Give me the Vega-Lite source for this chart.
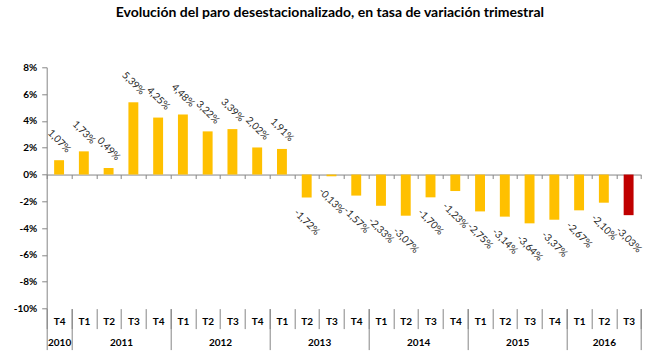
{
  "$schema": "https://vega.github.io/schema/vega-lite/v6.json",
  "width": 594.3,
  "height": 241.3,
  "autosize": "none",
  "padding": {"left": 46.7, "top": 67.3, "right": 12, "bottom": 53.4},
  "title": {
    "text": "Evolución del paro desestacionalizado, en tasa de variación trimestral",
    "font": "Lato", "fontSize": 14, "fontWeight": "bold", "color": "#000000",
    "anchor": "middle", "dx": -14, "offset": 42
  },
  "data": {
    "values": [
      {"key": "2010-T4", "v": 0.0107},
      {"key": "2011-T1", "v": 0.0173},
      {"key": "2011-T2", "v": 0.0049},
      {"key": "2011-T3", "v": 0.0539},
      {"key": "2011-T4", "v": 0.0425},
      {"key": "2012-T1", "v": 0.0448},
      {"key": "2012-T2", "v": 0.0322},
      {"key": "2012-T3", "v": 0.0339},
      {"key": "2012-T4", "v": 0.0202},
      {"key": "2013-T1", "v": 0.0191},
      {"key": "2013-T2", "v": -0.0172},
      {"key": "2013-T3", "v": -0.0013},
      {"key": "2013-T4", "v": -0.0157},
      {"key": "2014-T1", "v": -0.0233},
      {"key": "2014-T2", "v": -0.0307},
      {"key": "2014-T3", "v": -0.0170},
      {"key": "2014-T4", "v": -0.0123},
      {"key": "2015-T1", "v": -0.0275},
      {"key": "2015-T2", "v": -0.0314},
      {"key": "2015-T3", "v": -0.0364},
      {"key": "2015-T4", "v": -0.0337},
      {"key": "2016-T1", "v": -0.0267},
      {"key": "2016-T2", "v": -0.0210},
      {"key": "2016-T3", "v": -0.0303}
    ]
  },
  "layer": [
    {
      "mark": {"type": "bar", "width": {"band": 0.4}},
      "encoding": {
        "x": {
          "field": "key", "type": "nominal", "sort": null,
          "scale": {"paddingInner": 0, "paddingOuter": 0},
          "axis": {
            "orient": "bottom", "offset": -134.06, "title": null, "labels": false,
            "domain": true, "domainColor": "#868686", "ticks": true, "tickBand": "extent",
            "tickSize": 4, "tickColor": "#868686", "grid": false
          }
        },
        "y": {
          "field": "v", "type": "quantitative",
          "scale": {"domain": [-0.1, 0.08], "nice": false, "zero": false},
          "axis": {
            "values": [-0.1, -0.08, -0.06, -0.04, -0.02, 0, 0.02, 0.04, 0.06, 0.08],
            "tickCount": 20,
            "format": ".0%", "title": null, "grid": false, "labelOverlap": false,
            "labelBound": false, "labelFlush": false,
            "domain": true, "domainColor": "#868686", "tickColor": "#868686", "tickSize": 5,
            "labelPadding": 5, "labelFont": "Lato", "labelFontSize": 10, "labelFontWeight": "bold",
            "labelColor": "#000000"
          }
        },
        "color": {"condition": {"test": "datum.key === '2016-T3'", "value": "#C00000"}, "value": "#FFC000"}
      }
    },
    {
      "transform": [{"filter": "datum.v >= 0"}],
      "mark": {"type": "text", "angle": 45, "dx": -13.4, "dy": -13.4, "font": "Lato", "fontSize": 10,
        "color": "#262626", "align": "center", "baseline": "middle"},
      "encoding": {
        "x": {
          "field": "key", "type": "nominal", "sort": null,
          "axis": {
            "orient": "bottom", "offset": 0, "title": null, "domain": false, "grid": false,
            "tickBand": "extent", "tickSize": 20, "tickColor": "#868686",
            "labelExpr": "datum.value ? split(datum.value, '-')[1] : ''", "labelPadding": -7.3, "labelBaseline": "middle",
            "labelAngle": 0, "labelFont": "Lato", "labelFontSize": 10, "labelFontWeight": "bold",
            "labelColor": "#000000", "labelOverlap": false, "labelBound": false, "labelFlush": false
          }
        },
        "y": {"field": "v", "type": "quantitative"},
        "text": {"field": "v", "type": "quantitative", "format": ".2%"}
      }
    },
    {
      "transform": [{"filter": "datum.v < 0"}],
      "mark": {"type": "text", "angle": 45, "dx": 17.5, "dy": 17.5, "font": "Lato", "fontSize": 10,
        "color": "#262626", "align": "center", "baseline": "middle"},
      "encoding": {
        "x": {
          "field": "key", "type": "nominal", "sort": null,
          "axis": {
            "orient": "bottom", "offset": 0, "title": null, "domain": false, "grid": false,
            "values": ["2010-T4", "2011-T4", "2012-T4", "2013-T4", "2014-T4", "2015-T4", "2016-T3"],
            "tickBand": "extent", "tickSize": 41, "tickColor": "#868686",
            "labelExpr": "datum.value ? split(datum.value, '-')[0] : ''", "labelPadding": -7.3, "labelBaseline": "middle",
            "labelOffset": {
              "condition": [
                {"test": "datum.value === '2010-T4'", "value": 0},
                {"test": "datum.value === '2016-T3'", "value": -24.76}
              ],
              "value": -37.14
            },
            "labelAngle": 0, "labelFont": "Lato", "labelFontSize": 10, "labelFontWeight": "bold",
            "labelColor": "#000000", "labelOverlap": false, "labelBound": false, "labelFlush": false
          }
        },
        "y": {"field": "v", "type": "quantitative"},
        "text": {"field": "v", "type": "quantitative", "format": ".2%"}
      }
    }
  ],
  "resolve": {"axis": {"x": "independent"}},
  "config": {
    "view": {"stroke": null},
    "locale": {
      "number": {"decimal": ",", "thousands": ".", "grouping": [3], "currency": ["", " €"], "minus": "-"}
    }
  }
}
